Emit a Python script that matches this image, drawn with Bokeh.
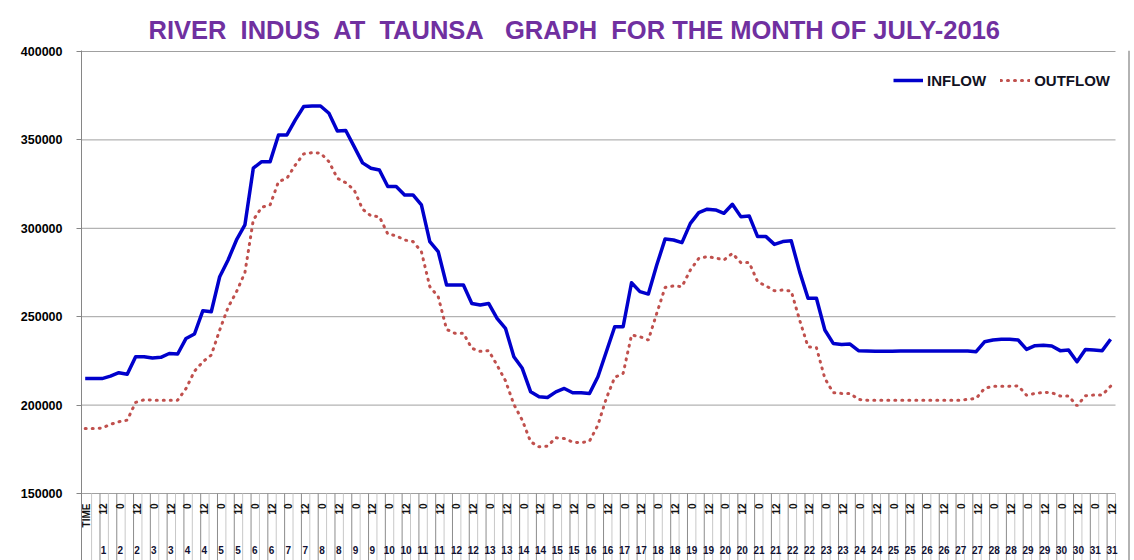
from bokeh.plotting import figure
from bokeh.models import Range1d, FixedTicker, Legend, LegendItem, ColumnDataSource
from bokeh.core.properties import value
from bokeh.embed import file_html
from bokeh.resources import INLINE

# ---------------- data ----------------
inflow = [
    215000, 215000, 215000, 216400, 218300, 217500, 227400, 227400, 226600, 227000,
    229200, 228900, 237700, 240200, 253400, 252800, 272600, 282100, 293400, 301900,
    334000, 337700, 337700, 352800, 352800, 361300, 368900, 369200, 369200, 365100,
    355100, 355300, 346200, 337000, 334000, 333000, 323600, 323600, 318900, 318900,
    313200, 292500, 286800, 267900, 267900, 267900, 257500, 256600, 257500, 249100,
    243400, 227400, 220800, 207500, 204700, 204300, 207500, 209400, 207000, 207000,
    206600, 216000, 230200, 244300, 244300, 269200, 264200, 262800, 279200, 294000,
    293400, 291900, 302800, 308900, 310800, 310400, 308500, 313600, 306600, 307000,
    295300, 295300, 290900, 292500, 293000, 275500, 260400, 260400, 242500, 234900,
    234300, 234500, 230800, 230600, 230500, 230500, 230500, 230600, 230600, 230600,
    230600, 230600, 230600, 230600, 230600, 230600, 230200, 235800, 236800, 237200,
    237200, 236800, 231500, 233600, 233800, 233400, 230800, 231100, 224500, 231500,
    231100, 230800, 237200,
]
outflow = [
    186800, 186800, 187000, 189100, 190600, 191500, 201500, 203000, 202800, 202800,
    202800, 202800, 209400, 219200, 224500, 228300, 242400, 255300, 264100, 274900,
    304700, 311900, 313200, 326400, 328300, 335800, 342100, 342800, 342500, 337700,
    328300, 325800, 321700, 310800, 307000, 306600, 296800, 295800, 293400, 292500,
    286800, 267000, 261300, 242800, 240600, 240600, 232100, 230400, 230800, 222600,
    213800, 200400, 191500, 179200, 176400, 176800, 181500, 181100, 179100, 178700,
    179600, 188700, 203800, 215700, 217900, 239600, 238700, 236800, 251900, 266600,
    267400, 267000, 276400, 283000, 284000, 283200, 282100, 285800, 280600, 280600,
    269800, 267400, 264700, 265100, 264500, 248100, 233000, 232500, 215100, 207000,
    206600, 206600, 203200, 202800, 202800, 202800, 202800, 202800, 202800, 202800,
    202800, 202800, 202800, 202800, 202800, 203200, 203800, 209400, 210700, 210700,
    210700, 210900, 205600, 206600, 207200, 207000, 205100, 205100, 199600, 205300,
    205700, 205700, 210700,
]
time_labels = ["TIME", "12"] + ["0", "12"] * 30
day_labels = ["", "1"] + [str(d) for d in range(2, 32) for _ in (0, 1)]
y_ticks = [150000, 200000, 250000, 300000, 350000, 400000]
NB = "\u00a0"
title_text = ("RIVER" + NB + " INDUS" + NB + " AT" + NB + " TAUNSA" + NB + NB +
              " GRAPH" + NB + " FOR THE MONTH OF JULY-2016")

# ---------------- layout ----------------
W, H = 1134, 560
FL, FR, FT = 81, 0, 50
PX_PER_VAL = 88.4 / 50000.0
step = 8.405            # px between consecutive points
x0_page = 84.7          # page x of first point


def yv(page_y):
    return 400000 - (page_y - 51) / PX_PER_VAL


def xv(page_x):
    return (page_x - x0_page) / step


y_top = yv(FT)
y_bot = yv(H)
x_start = xv(FL)
x_end = xv(W)

p = figure(width=W, height=H, output_backend="svg", toolbar_location=None, tools="",
           x_range=Range1d(x_start, x_end), y_range=Range1d(y_bot, y_top),
           x_axis_location=None, min_border_left=FL, min_border_right=FR,
           min_border_top=FT, min_border_bottom=0)
p.outline_line_color = None
p.background_fill_color = "white"
p.border_fill_color = "white"

p.title.text = title_text
p.title.align = "left"
p.title.offset = 148 - FL
p.title.text_font = "Liberation Sans"
p.title.text_font_size = "25.5px"
p.title.text_font_style = "bold"
p.title.text_color = "#7030A0"
p.title.standoff = 13

p.xgrid.visible = False
p.ygrid.visible = False
p.yaxis.ticker = FixedTicker(ticks=y_ticks)
p.yaxis.major_label_overrides = {t: str(t) for t in y_ticks}
p.yaxis.minor_tick_line_color = None
p.yaxis.axis_line_color = "#868686"
p.yaxis.major_tick_line_color = "#868686"
p.yaxis.major_tick_out = 5
p.yaxis.major_tick_in = 0
p.yaxis.major_label_standoff = 14
p.yaxis.major_label_text_font = "Liberation Sans"
p.yaxis.major_label_text_font_size = "12.5px"
p.yaxis.major_label_text_font_style = "bold"
p.yaxis.major_label_text_color = "#000000"

# horizontal gridlines (stop at the right edge of the plot area)
p.segment(x0=[x_start] * len(y_ticks), x1=[xv(1115)] * len(y_ticks), y0=y_ticks, y1=y_ticks,
          line_color="#a0a0a0", line_width=1)
# chart border on the right
p.segment(x0=[xv(1128.5)], x1=[xv(1128.5)], y0=[y_bot], y1=[y_top],
          line_color="#9a9a9a", line_width=1.5)

# category table below the 150000 line
n_cells = len(inflow)
bx_dark, bx_light = [], []
for m in range(1, n_cells + 1):
    bx = xv(82.7 + m * (1115 - 82.7) / n_cells)
    (bx_dark if m % 2 == 0 else bx_light).append(bx)
p.segment(x0=bx_light, x1=bx_light, y0=[150000] * len(bx_light), y1=[y_bot] * len(bx_light),
          line_color="#c8c8c8", line_width=1)
p.segment(x0=bx_dark, x1=bx_dark, y0=[150000] * len(bx_dark), y1=[y_bot] * len(bx_dark),
          line_color="#8c8c8c", line_width=1)

lab_x = [2 * k + 0.17 for k in range(len(time_labels))]
lab_src = ColumnDataSource(dict(x=lab_x, t=time_labels, d=day_labels,
                                yt=[yv(503)] * len(lab_x), yd=[yv(549)] * len(lab_x)))
p.text(x="x", y="yt", text="t", source=lab_src, angle=1.5708, text_align="right",
       text_baseline="middle", text_font=value("Liberation Sans"), text_font_size="10px",
       text_font_style="bold", text_color="#111111")
p.text(x="x", y="yd", text="d", source=lab_src, text_align="center",
       text_baseline="middle", text_font=value("Liberation Sans"), text_font_size="10px",
       text_font_style="bold", text_color="#111133")

src = ColumnDataSource(dict(x=list(range(len(inflow))), inflow=inflow, outflow=outflow))
r_in = p.line("x", "inflow", source=src, line_color="#0000CC", line_width=3.5,
              line_join="round")
r_out = p.line("x", "outflow", source=src, line_color="#C0504D", line_width=3,
               line_dash="1 6", line_cap="round")

legend = Legend(items=[LegendItem(label="INFLOW", renderers=[r_in]),
                       LegendItem(label="OUTFLOW", renderers=[r_out])],
                orientation="horizontal", location=(893 - FL, (H - 90)),
                padding=0, margin=0, spacing=14, glyph_width=30, label_standoff=4,
                border_line_color=None, background_fill_alpha=0,
                label_text_font="Liberation Sans", label_text_font_size="15px",
                label_text_font_style="bold", label_text_color="#111122")
p.add_layout(legend)

open("out.html", "w").write(file_html(p, INLINE))
